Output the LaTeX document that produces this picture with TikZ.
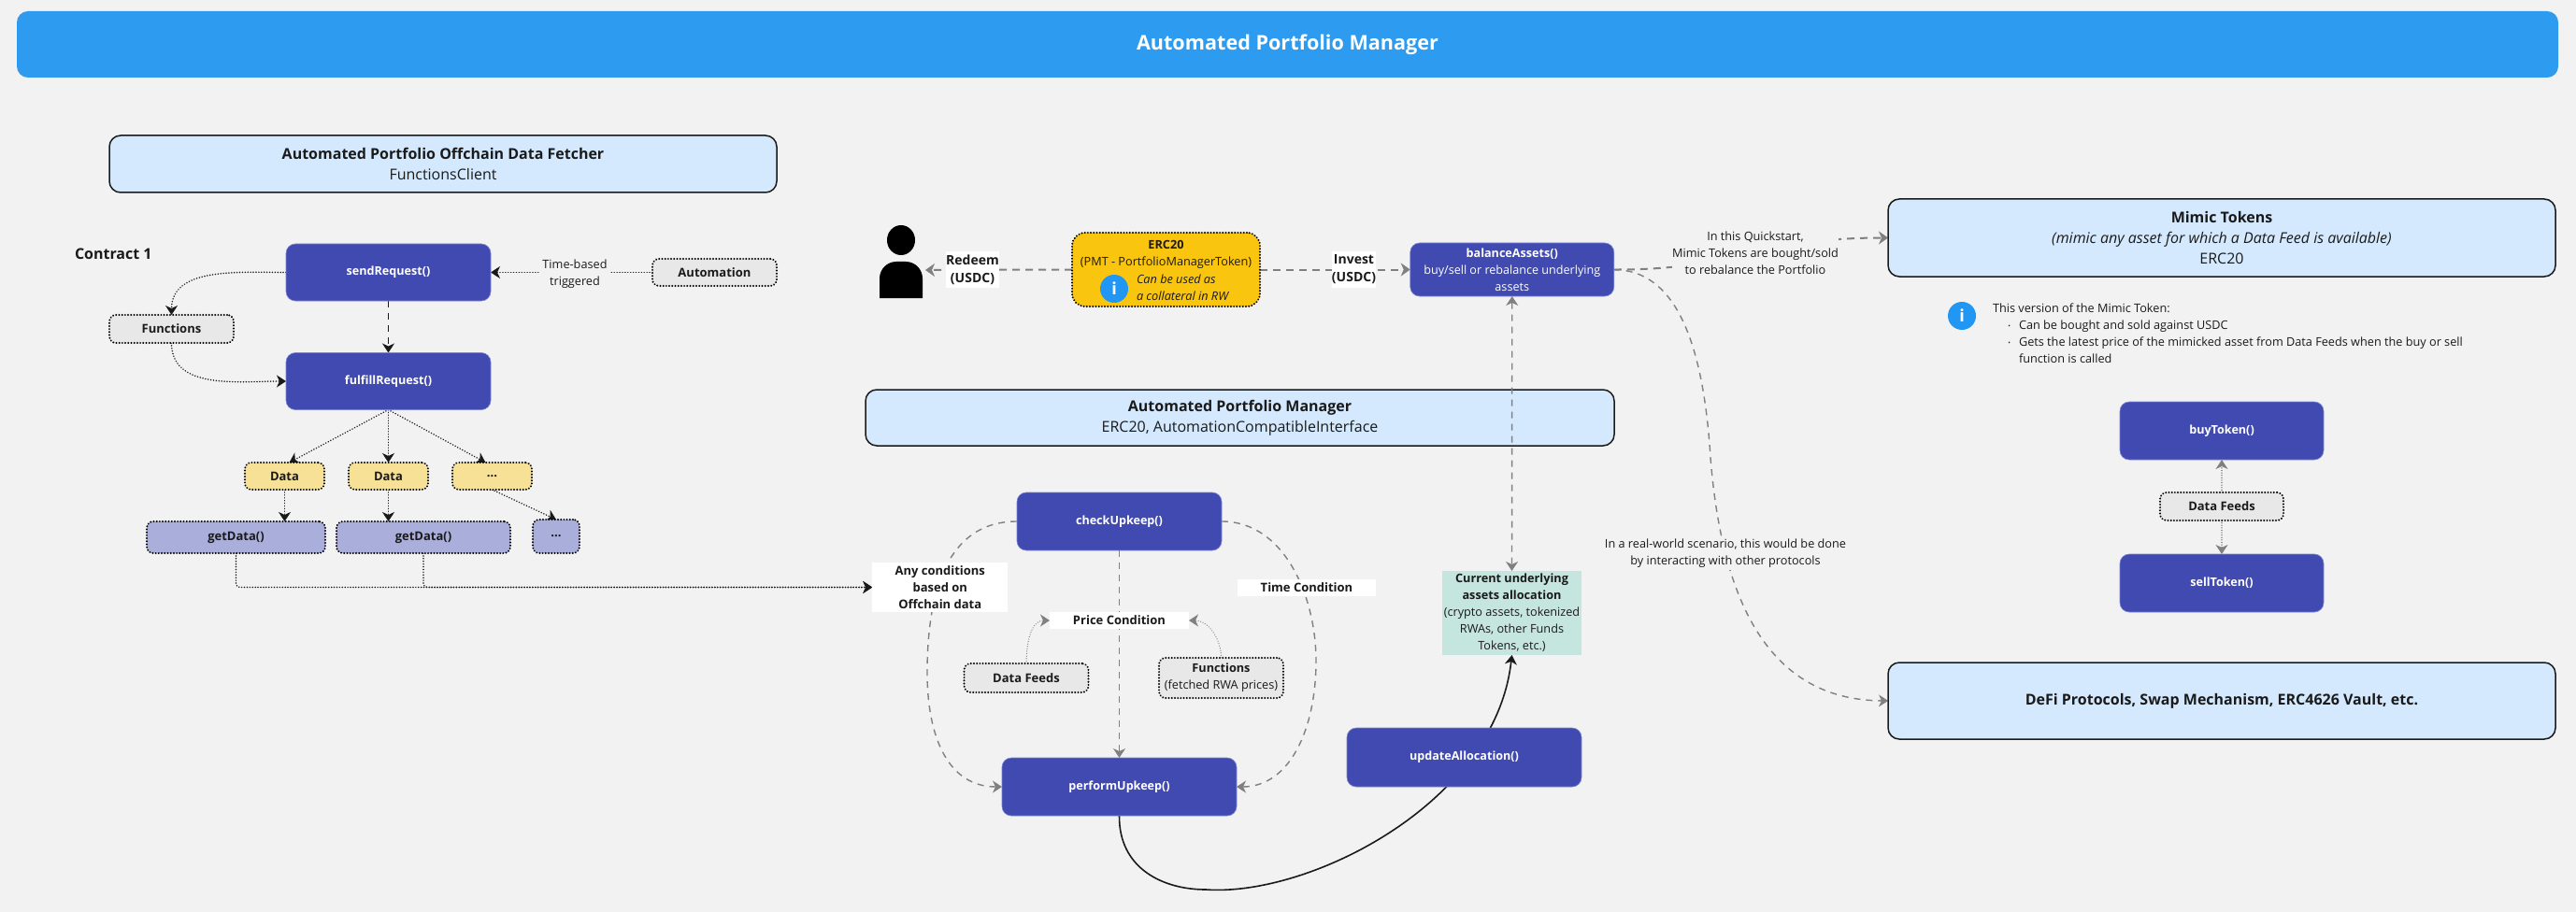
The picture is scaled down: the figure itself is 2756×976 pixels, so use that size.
\documentclass[tikz,border=0pt]{standalone}
\usepackage{fontspec}
\setmainfont{Open Sans}
\usetikzlibrary{arrows.meta,positioning,backgrounds}
\definecolor{PageBg}{RGB}{242,242,242}
\definecolor{TitleC}{RGB}{45,155,240}
\definecolor{FnC}{RGB}{65,74,176}
\definecolor{FnEdge}{RGB}{125,133,215}
\definecolor{HdrC}{RGB}{212,233,253}
\definecolor{GrayBox}{RGB}{232,232,232}
\definecolor{DataC}{RGB}{246,225,151}
\definecolor{GetC}{RGB}{169,174,218}
\definecolor{TokenC}{RGB}{250,197,15}
\definecolor{AllocC}{RGB}{197,230,223}
\definecolor{InfoC}{RGB}{33,150,243}
\definecolor{InkC}{RGB}{26,26,26}
\definecolor{ArrowG}{RGB}{128,128,128}
\tikzset{
  every node/.style={inner sep=0pt,outer sep=0pt,text=InkC,font=\fontsize{12.7}{18}\selectfont,align=center},
  fn/.style={rounded corners=10pt,fill=FnC,draw=FnEdge,line width=0.6pt,text=white,
             font=\fontsize{12.6}{18}\selectfont\bfseries},
  hdr/.style={rounded corners=12pt,fill=HdrC,draw=InkC,line width=1.5pt,
              font=\fontsize{16}{22}\selectfont},
  dbox/.style={rounded corners=7pt,draw=black,line width=2.2pt,line cap=round,dash pattern=on 0.01pt off 3.2pt},
  feed/.style={dbox,fill=GrayBox,font=\fontsize{13}{18}\selectfont\bfseries},
  datab/.style={dbox,fill=DataC,font=\fontsize{13}{18}\selectfont\bfseries},
  getb/.style={dbox,fill=GetC,font=\fontsize{13}{18}\selectfont\bfseries},
  tag/.style={fill=white,font=\fontsize{13}{18}\selectfont\bfseries},
  bigtag/.style={fill=white,font=\fontsize{14}{19}\selectfont\bfseries},
  note/.style={fill=PageBg},
  infoicon/.style={circle,fill=InfoC,minimum size=30pt,text=white,font=\fontsize{18}{18}\selectfont\bfseries},
  dotk/.style={-{Stealth[length=10pt,width=13pt,inset=3pt]},line width=1.7pt,InkC,line cap=round,dash pattern=on 0.01pt off 2.9pt},
  dashk/.style={-{Stealth[length=10pt,width=13pt,inset=3pt]},line width=1.6pt,InkC,dash pattern=on 7pt off 6pt},
  dotg/.style={-{Stealth[length=10pt,width=13pt,inset=3pt]},line width=1.3pt,ArrowG,line cap=round,dash pattern=on 0.01pt off 2.6pt},
  dashg/.style={-{Stealth[length=10pt,width=13pt,inset=3pt]},line width=1.4pt,ArrowG,dash pattern=on 7pt off 6pt},
  dashgb/.style={-{Stealth[length=10pt,width=14pt,inset=3pt]},line width=2pt,ArrowG,dash pattern=on 8pt off 6pt},
  solidk/.style={-{Stealth[length=10pt,width=13pt,inset=3pt]},line width=1.6pt,InkC},
}
\begin{document}
\begin{tikzpicture}[x=1pt,y=-1pt]
  \useasboundingbox (0,0) rectangle (2756,976);
  \node[fill=TitleC,rounded corners=12pt,minimum width=2719pt,minimum height=71pt,text=white,
        font=\fontsize{21.6}{28}\selectfont\bfseries] (title) at (1377.5,47.5) {Automated Portfolio Manager};

  % offchain data fetcher
  \node[hdr,minimum width=714pt,minimum height=61pt] (hdrOff) at (474,175.5)
    {\textbf{Automated Portfolio Offchain Data Fetcher}\\FunctionsClient};
  \node[anchor=west,font=\fontsize{16}{18}\selectfont\bfseries] (contract) at (80,272) {Contract 1};
  \node[fn,minimum width=219pt,minimum height=61pt] (send) at (415.5,291.5) {sendRequest()};
  \node[fn,minimum width=219pt,minimum height=61pt,below=55.5pt of send] (fulfill) {fulfillRequest()};
  \node[feed,minimum width=133pt,minimum height=30pt] (funcs) at (183.5,352) {Functions};
  \node[feed,minimum width=133pt,minimum height=29pt] (auto) at (764.5,291.5) {Automation};
  \node[note,minimum width=76pt] (trig) at (615,293) {Time-based\\triggered};
  \node[datab,minimum width=85pt,minimum height=29pt] (data2) at (415.5,509.5) {Data};
  \node[datab,minimum width=85pt,minimum height=29pt,left=26pt of data2] (data1) {Data};
  \node[datab,minimum width=85pt,minimum height=29pt,right=26pt of data2] (data3) {...};
  \node[getb,minimum width=191pt,minimum height=34pt] (get1) at (252.5,575) {getData()};
  \node[getb,minimum width=186pt,minimum height=34pt,right=12pt of get1] (get2) {getData()};
  \node[getb,minimum width=50pt,minimum height=36pt] (get3) at (595,574) {...};

  % portfolio manager
  \node[hdr,minimum width=801pt,minimum height=60pt] (hdrMgr) at (1326.5,447)
    {\textbf{Automated Portfolio Manager}\\ERC20, AutomationCompatibleInterface};
  \node[dbox,fill=TokenC,rounded corners=14pt,minimum width=201pt,minimum height=79pt] (erc) at (1247.5,288.5)
    {\textbf{ERC20}\\(PMT - PortfolioManagerToken)\\ \\ };
  \node[infoicon] (ercinfo) at (1192,309) {i};
  \node[anchor=west,align=left,font=\fontsize{12.7}{18}\selectfont\itshape] (ercnote) at (1216,308)
    {Can be used as\\a collateral in RW};
  \node[bigtag,minimum width=57pt,minimum height=39pt] (redeem) at (1040.5,288.5) {Redeem\\(USDC)};
  \node[bigtag,minimum width=47pt,minimum height=39pt] (invest) at (1448.5,288.5) {Invest\\(USDC)};
  \node[fn,minimum width=218pt,minimum height=57pt] (balance) at (1617.75,288.5)
    {balanceAssets()\\\mdseries buy/sell or rebalance underlying\\\mdseries assets};
  \node[fn,minimum width=219pt,minimum height=62pt] (check) at (1197.5,558) {checkUpkeep()};
  \node[fn,minimum width=251pt,minimum height=62pt] (perform) at (1197.5,842) {performUpkeep()};
  \node[fn,minimum width=251pt,minimum height=63pt] (update) at (1566.5,810.5) {updateAllocation()};
  \node[fill=AllocC,minimum width=149pt,minimum height=90pt] (current) at (1617.5,656)
    {\textbf{Current underlying}\\\textbf{assets allocation}\\(crypto assets, tokenized\\RWAs, other Funds\\Tokens, etc.)};
  \node[tag,minimum width=145pt,minimum height=53pt] (any) at (1005.75,628.5) {Any conditions\\based on\\Offchain data};
  \node[tag,minimum width=149pt,minimum height=18pt] (price) at (1197.5,664) {Price Condition};
  \node[tag,minimum width=148pt,minimum height=18pt] (timec) at (1398,629) {Time Condition};
  \node[feed,minimum width=133pt,minimum height=31pt] (feeds) at (1098,725.5) {Data Feeds};
  \node[dbox,fill=GrayBox,minimum width=133pt,minimum height=43pt] (fetched) at (1306.5,725.5)
    {\textbf{Functions}\\(fetched RWA prices)};

  % mimic tokens and protocols
  \node[hdr,minimum width=714pt,minimum height=83pt] (mimic) at (2377,254.5)
    {\textbf{Mimic Tokens}\\\textit{(mimic any asset for which a Data Feed is available)}\\ERC20};
  \node[hdr,minimum width=714pt,minimum height=82pt,font=\fontsize{16}{22}\selectfont\bfseries] (defi) at (2377,750)
    {DeFi Protocols, Swap Mechanism, ERC4626 Vault, etc.};
  \node[note,minimum width=176pt,minimum height=54pt] (quick) at (1878,271)
    {In this Quickstart,\\Mimic Tokens are bought/sold\\to rebalance the Portfolio};
  \node[note,minimum width=255pt,minimum height=36pt] (realw) at (1846,592)
    {In a real-world scenario, this would be done\\by interacting with other protocols};
  \node[infoicon] (mimicinfo) at (2099,338) {i};
  \node[anchor=north west,align=left] (mimicnote) at (2132,325)
    {This version of the Mimic Token:\\
     \hspace*{28pt}\llap{\raisebox{1pt}{\scriptsize\textbullet}\hspace{9pt}}Can be bought and sold against USDC\\
     \hspace*{28pt}\llap{\raisebox{1pt}{\scriptsize\textbullet}\hspace{9pt}}Gets the latest price of the mimicked asset from Data Feeds when the buy or sell\\
     \hspace*{28pt}function is called};
  \node[fn,minimum width=218pt,minimum height=62pt] (buy) at (2377,461) {buyToken()};
  \node[feed,minimum width=132pt,minimum height=30pt,below=35pt of buy] (feedsb) {Data Feeds};
  \node[fn,minimum width=218pt,minimum height=62pt,below=36pt of feedsb] (sell) {sellToken()};

  % person
  \coordinate (person) at (990,289);
  \fill[black] (964,257) ellipse (15pt and 16pt);
  \fill[black] (941,319) -- (941,298) arc[start angle=180,end angle=90,radius=18pt]
    -- (969,280) arc[start angle=90,end angle=0,radius=18pt] -- (987,319) -- cycle;

  % connectors behind the boxes
  \begin{scope}[on background layer]
    \fill[PageBg] (0,0) rectangle (2756,976);
    \draw[dotk] (send.west) to[out=180,in=90] (funcs.north);
    \draw[dotk] (funcs.south) to[out=-90,in=180] (fulfill.west);
    \draw[dotk] (auto.west) -- (send.east);
    \draw[dashk] (send.south) -- (fulfill.north);
    \draw[dotk] (fulfill.south) -- ([xshift=5pt]data1.north);
    \draw[dotk] (fulfill.south) -- (data2.north);
    \draw[dotk] (fulfill.south) -- ([xshift=-7pt]data3.north);
    \draw[dotk] (data1.south) -- (data1.south |- get1.north);
    \draw[dotk] (data2.south) -- (data2.south |- get2.north);
    \draw[dotk] (data3.south) -- (get3.north);
    \draw[dotk,rounded corners=4pt] (get1.south) |- (any.west);
    \draw[dotk,rounded corners=4pt] (get2.south) |- (any.west);
    \draw[dashgb] (erc.west) -- (person);
    \draw[dashgb] (erc.east) -- (balance.west);
    \draw[dashg] (check.west) .. controls (1010,558) and (992,640) .. (992,720)
      .. controls (992,790) and (1015,842) .. (perform.west);
    \draw[dashg] (check.east) .. controls (1375,558) and (1408,640) .. (1408,707)
      .. controls (1408,780) and (1380,842) .. (perform.east);
    \draw[dashg] (check.south) -- (perform.north);
    \draw[dotg] (feeds.north) to[out=90,in=180] (price.west);
    \draw[dotg] (fetched.north) to[out=90,in=0] (price.east);
    \draw[solidk] (perform.south) .. controls (1197,930) and (1245,952) .. (1290,952)
      .. controls (1400,960) and (1600,860) .. (current.south);
    \draw[dashgb] (balance.east) .. controls (1860,289) and (1880,254.5) .. (mimic.west);
    \draw[dashg] (balance.east) .. controls (1790,289) and (1822,360) .. (1830,490)
      .. controls (1842,640) and (1890,749) .. (defi.west);
    \draw[dotg] (feedsb.north) -- (buy.south);
    \draw[dotg] (feedsb.south) -- (sell.north);
  \end{scope}
  \draw[dashg,{Stealth[length=10pt,width=13pt,inset=3pt]}-{Stealth[length=10pt,width=13pt,inset=3pt]}]
    (balance.south) -- (current.north);
\end{tikzpicture}
\end{document}
